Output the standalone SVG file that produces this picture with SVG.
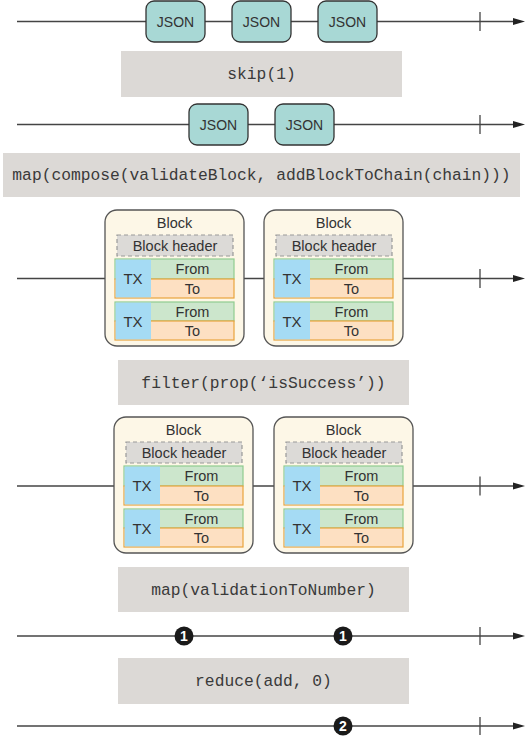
<svg xmlns="http://www.w3.org/2000/svg" width="527" height="737" viewBox="0 0 527 737">
<defs>
<style>
.ln{stroke:#444;stroke-width:1.3;fill:none}
.tick{stroke:#444;stroke-width:1.3}
.ah{fill:#222}
.json rect{fill:#a8d8d5;stroke:#333;stroke-width:1.3}
.sans{font-family:"Liberation Sans",Arial,sans-serif;fill:#333;text-anchor:middle}
.op rect{fill:#dcd9d6}
.op text{font-family:"Liberation Mono","Courier New",monospace;font-size:16.3px;fill:#3a3a3a;text-anchor:middle}
.blk{fill:#fdf7e7;stroke:#555;stroke-width:1.3}
.hdr{fill:#dcdad7;stroke:#999;stroke-width:1.2;stroke-dasharray:4 3}
.from{fill:#cce6cc;stroke:#8fcc8f;stroke-width:1.2}
.to{fill:#fde0c2;stroke:#eaa43c;stroke-width:1.2}
.tx{fill:#a5dbf4}
.num circle{fill:#1a1a1a}
.num text{font-family:"Liberation Sans",Arial,sans-serif;font-weight:bold;font-size:14px;fill:#fff;text-anchor:middle}
</style>
<g id="blockTpl">
<rect class="blk" x="0" y="0" width="139" height="136" rx="12"/>
<text class="sans" x="69.5" y="18" font-size="14.5">Block</text>
<rect class="hdr" x="12" y="25" width="116" height="21"/>
<text class="sans" x="70" y="40.5" font-size="14.5">Block header</text>
<rect class="from" x="10" y="49" width="119" height="20"/>
<rect class="to" x="10" y="69" width="119" height="19"/>
<rect class="tx" x="10.6" y="49.6" width="35.4" height="37.8"/>
<text class="sans" x="28" y="74" font-size="15">TX</text>
<text class="sans" x="87.5" y="64" font-size="14.5">From</text>
<text class="sans" x="87.5" y="83.5" font-size="14.5">To</text>
<rect class="from" x="10" y="92" width="119" height="19"/>
<rect class="to" x="10" y="111" width="119" height="19"/>
<rect class="tx" x="10.6" y="92.6" width="35.4" height="36.8"/>
<text class="sans" x="28" y="116.5" font-size="15">TX</text>
<text class="sans" x="87.5" y="106.5" font-size="14.5">From</text>
<text class="sans" x="87.5" y="126" font-size="14.5">To</text>
</g>
</defs>
<rect width="527" height="737" fill="#fff"/>
<g id="connectors">
<line class="ln" x1="17" y1="21.5" x2="515" y2="21.5"/>
<line class="tick" x1="480" y1="12" x2="480" y2="31"/>
<polygon class="ah" points="513,18 525,21.5 513,25"/>
<line class="ln" x1="17" y1="124.5" x2="515" y2="124.5"/>
<line class="tick" x1="480" y1="115" x2="480" y2="134"/>
<polygon class="ah" points="513,121 525,124.5 513,128"/>
<line class="ln" x1="17" y1="278.5" x2="515" y2="278.5"/>
<line class="tick" x1="480" y1="269" x2="480" y2="288"/>
<polygon class="ah" points="513,275 525,278.5 513,282"/>
<line class="ln" x1="17" y1="486" x2="515" y2="486"/>
<line class="tick" x1="480" y1="476.5" x2="480" y2="495.5"/>
<polygon class="ah" points="513,482.5 525,486 513,489.5"/>
<line class="ln" x1="17" y1="636" x2="515" y2="636"/>
<line class="tick" x1="480" y1="627" x2="480" y2="645"/>
<polygon class="ah" points="513,632.5 525,636 513,639.5"/>
<line class="ln" x1="17" y1="726" x2="515" y2="726"/>
<line class="tick" x1="480" y1="717" x2="480" y2="735"/>
<polygon class="ah" points="513,722.5 525,726 513,729.5"/>
</g>
<g id="json1" class="json"><rect x="146" y="1" width="59" height="41" rx="8"/><text class="sans" x="175.5" y="26.5" font-size="14">JSON</text></g>
<g id="json2" class="json"><rect x="232" y="1" width="59" height="41" rx="8"/><text class="sans" x="261.5" y="26.5" font-size="14">JSON</text></g>
<g id="json3" class="json"><rect x="318" y="1" width="59" height="41" rx="8"/><text class="sans" x="347.5" y="26.5" font-size="14">JSON</text></g>
<g id="op-skip" class="op"><rect x="121" y="51" width="281" height="46"/><text x="261.5" y="79">skip(1)</text></g>
<g id="json4" class="json"><rect x="189" y="104" width="59" height="41" rx="8"/><text class="sans" x="218.5" y="129.5" font-size="14">JSON</text></g>
<g id="json5" class="json"><rect x="275" y="104" width="59" height="41" rx="8"/><text class="sans" x="304.5" y="129.5" font-size="14">JSON</text></g>
<g id="op-map-compose" class="op"><rect x="3" y="153" width="517" height="44"/><text x="261.5" y="180">map(compose(validateBlock, addBlockToChain(chain)))</text></g>
<g id="block1"><use href="#blockTpl" transform="translate(105,210)"/></g>
<g id="block2"><use href="#blockTpl" transform="translate(264,210)"/></g>
<g id="op-filter" class="op"><rect x="118" y="360" width="291" height="45"/><text x="263.5" y="388">filter(prop(‘isSuccess’))</text></g>
<g id="block3"><use href="#blockTpl" transform="translate(114,417)"/></g>
<g id="block4"><use href="#blockTpl" transform="translate(274,417)"/></g>
<g id="op-map-num" class="op"><rect x="118" y="567" width="291" height="45"/><text x="263.5" y="595">map(validationToNumber)</text></g>
<g id="n1a" class="num"><circle cx="184" cy="636" r="9.5"/><text x="184" y="641">1</text></g>
<g id="n1b" class="num"><circle cx="343" cy="636" r="9.5"/><text x="343" y="641">1</text></g>
<g id="op-reduce" class="op"><rect x="118" y="658" width="291" height="46"/><text x="263.5" y="686">reduce(add, 0)</text></g>
<g id="n2" class="num"><circle cx="343" cy="726" r="9.5"/><text x="343" y="731">2</text></g>
</svg>
